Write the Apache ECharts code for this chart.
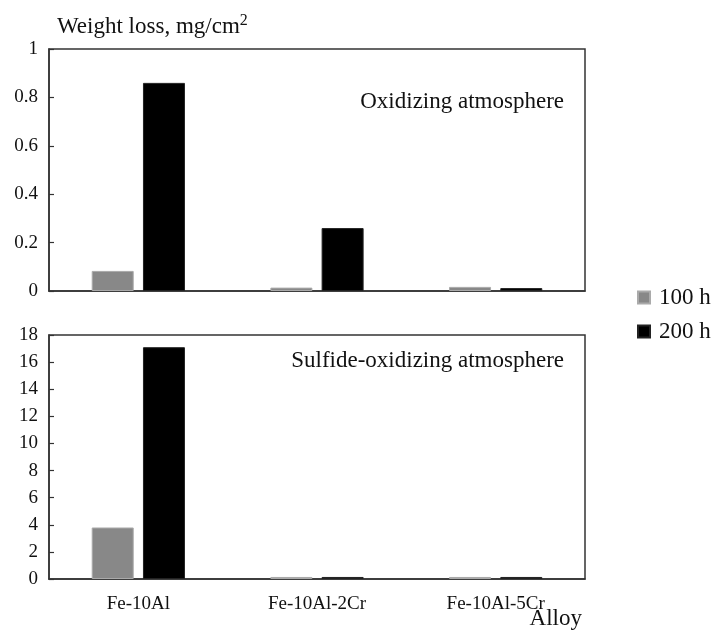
<!DOCTYPE html>
<html><head><meta charset="utf-8">
<script src="https://cdn.jsdelivr.net/npm/echarts@6/dist/echarts.min.js"></script>
<style>html,body{margin:0;padding:0;background:#fff}#c{width:714px;height:630px}</style>
</head><body><div id="c"></div>
<script>
var categories = ['Fe-10Al', 'Fe-10Al-2Cr', 'Fe-10Al-5Cr'];
var seriesNames = ['100 h', '200 h'];
var oxid100 = [0.083, 0.014, 0.017];
var oxid200 = [0.86, 0.26, 0.012];
var sulf100 = [3.8, 0.15, 0.15];
var sulf200 = [17.1, 0.15, 0.15];
var topTicks = [0, 0.2, 0.4, 0.6, 0.8, 1];
var bottomTicks = [0, 2, 4, 6, 8, 10, 12, 14, 16, 18];

var FONT = 'Liberation Serif';
var chart = echarts.init(document.getElementById('c'));
var axisLine = {show: true, lineStyle: {color: '#333', width: 1.5}};
function yAxis(idx, ticks) {
  return {
    type: 'value', gridIndex: idx, min: ticks[0], max: ticks[ticks.length - 1],
    interval: ticks[1] - ticks[0],
    axisLine: axisLine,
    axisTick: {show: true, inside: true, length: 5, lineStyle: {color: '#333', width: 1.2}},
    splitLine: {show: false},
    axisLabel: {color: '#111', fontFamily: FONT, fontSize: 19, margin: 11}
  };
}
function xAxis(idx, showLabels) {
  return {
    type: 'category', gridIndex: idx, data: categories,
    axisLine: axisLine, axisTick: {show: false},
    axisLabel: {show: showLabels, color: '#111', fontFamily: FONT, fontSize: 19, margin: 16}
  };
}
var gray = '#888888', black = '#000000';
function bar(name, data, color, idx) {
  return {
    name: name, type: 'bar', xAxisIndex: idx, yAxisIndex: idx, data: data,
    barWidth: 42, barGap: '22%',
    itemStyle: {color: color, borderColor: color === gray ? '#aaa' : '#222', borderWidth: 1}
  };
}
chart.setOption({
  animation: false,
  textStyle: {fontFamily: FONT},
  grid: [
    {left: 49, right: 129, top: 49, height: 242, show: true, borderColor: '#333', borderWidth: 1.5},
    {left: 49, right: 129, top: 335, height: 244, show: true, borderColor: '#333', borderWidth: 1.5}
  ],
  xAxis: [xAxis(0, false), xAxis(1, true)],
  yAxis: [yAxis(0, topTicks), yAxis(1, bottomTicks)],
  legend: {
    orient: 'vertical', left: 632, top: 281, itemWidth: 12, itemHeight: 12, itemGap: 11,
    icon: 'rect',
    textStyle: {fontFamily: FONT, fontSize: 23, color: '#111', padding: [0, 0, 0, 4]},
    data: seriesNames
  },
  title: [
    {text: 'Weight loss, mg/cm{s|2}', left: 52, top: 8,
     textStyle: {fontFamily: FONT, fontSize: 23, fontWeight: 'normal', color: '#111',
       rich: {s: {fontFamily: FONT, fontSize: 16, verticalAlign: 'top', padding: [0,0,12,0], color: '#111'}}}},
    {text: 'Oxidizing atmosphere', right: 145, top: 85,
     textStyle: {fontFamily: FONT, fontSize: 23, fontWeight: 'normal', color: '#111'}},
    {text: 'Sulfide-oxidizing atmosphere', right: 145, top: 344,
     textStyle: {fontFamily: FONT, fontSize: 23, fontWeight: 'normal', color: '#111'}},
    {text: 'Alloy', right: 127, top: 602,
     textStyle: {fontFamily: FONT, fontSize: 23, fontWeight: 'normal', color: '#111'}}
  ],
  series: [
    bar(seriesNames[0], oxid100, gray, 0),
    bar(seriesNames[1], oxid200, black, 0),
    bar(seriesNames[0], sulf100, gray, 1),
    bar(seriesNames[1], sulf200, black, 1)
  ]
});
</script></body></html>
